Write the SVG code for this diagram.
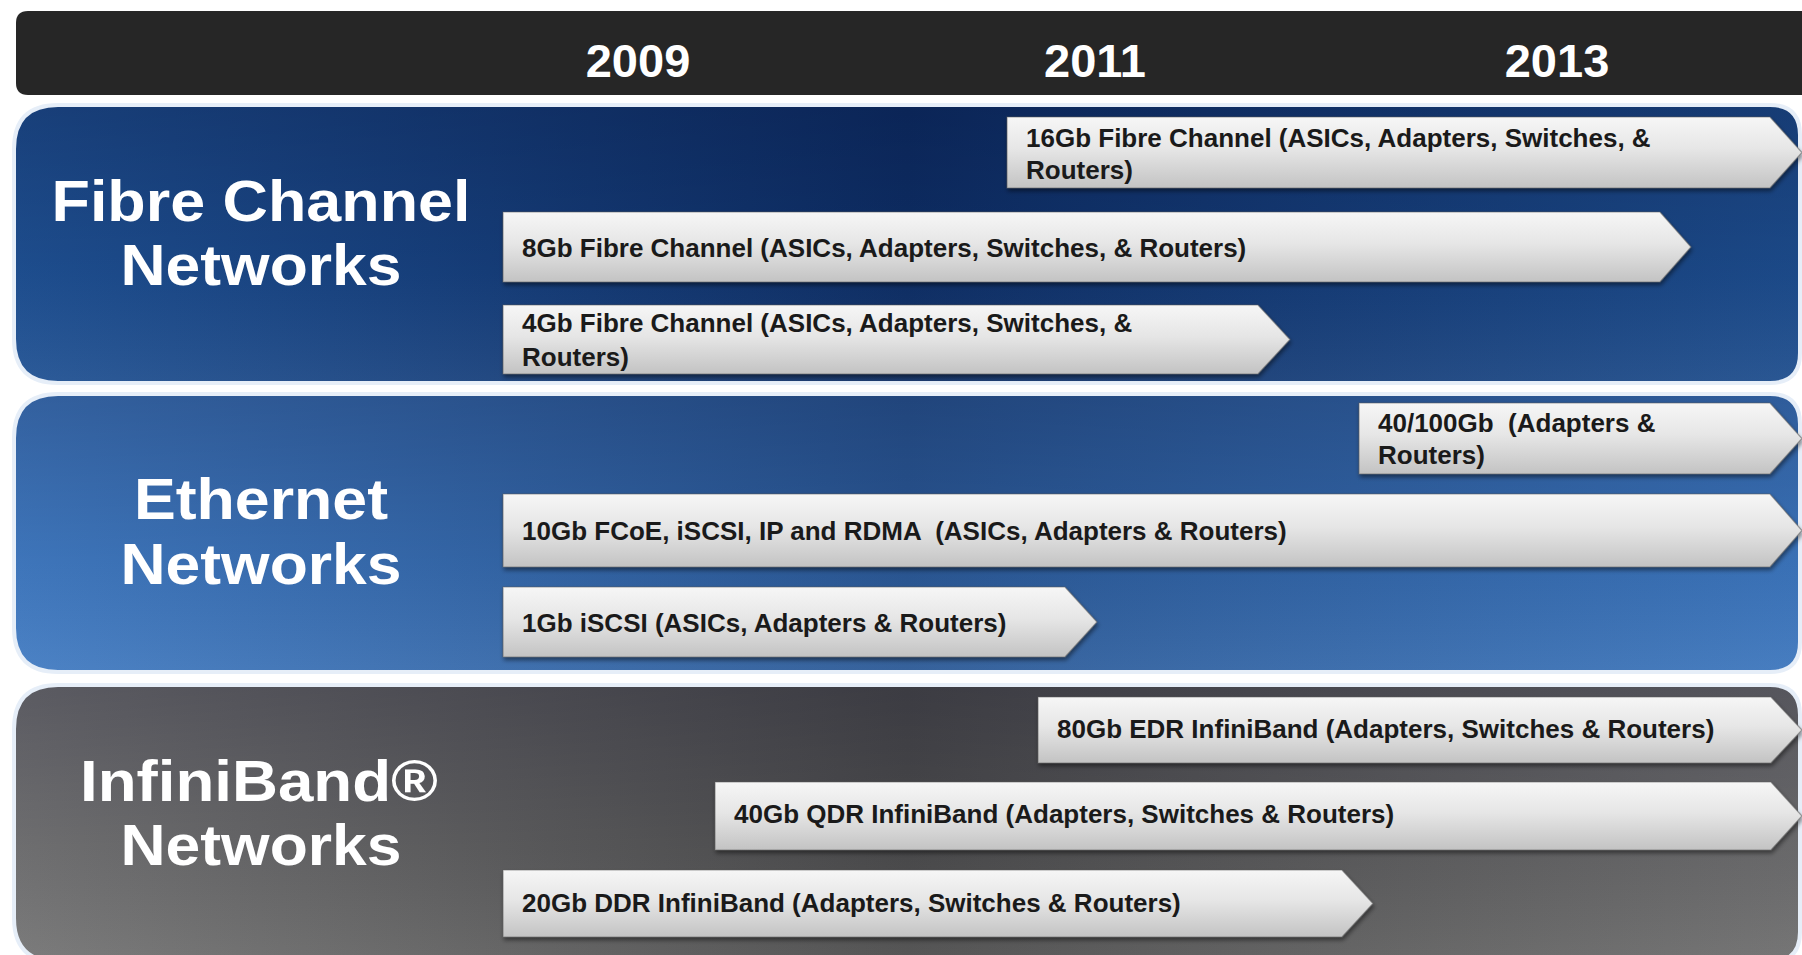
<svg xmlns="http://www.w3.org/2000/svg" width="1802" height="955" viewBox="0 0 1802 955">
<defs>
<linearGradient id="gFC" x1="0" y1="0" x2="1" y2="0">
<stop offset="0" stop-color="#1f5193"/><stop offset="0.5" stop-color="#0e2f66"/><stop offset="1" stop-color="#1d4d8d"/>
</linearGradient>
<linearGradient id="gEth" x1="0" y1="0" x2="1" y2="0">
<stop offset="0" stop-color="#417bc2"/><stop offset="0.5" stop-color="#2a5895"/><stop offset="1" stop-color="#3c76bd"/>
</linearGradient>
<linearGradient id="gIB" x1="0" y1="0" x2="1" y2="0">
<stop offset="0" stop-color="#747474"/><stop offset="0.5" stop-color="#4c4c4c"/><stop offset="1" stop-color="#6e6e6e"/>
</linearGradient>
<linearGradient id="gShade" x1="0" y1="0" x2="0" y2="1">
<stop offset="0" stop-color="#000020" stop-opacity="0.22"/><stop offset="0.6" stop-color="#000020" stop-opacity="0.05"/><stop offset="1" stop-color="#ffffff" stop-opacity="0.06"/>
</linearGradient>
<linearGradient id="gArrow" x1="0" y1="0" x2="0" y2="1">
<stop offset="0" stop-color="#f6f6f6"/><stop offset="0.45" stop-color="#e6e6e6"/><stop offset="1" stop-color="#c3c3c3"/>
</linearGradient>
<filter id="shadow" x="-5%" y="-20%" width="110%" height="150%">
<feDropShadow dx="1" dy="3" stdDeviation="2" flood-color="#000" flood-opacity="0.45"/>
</filter>
</defs>
<style>
.year{font-family:"Liberation Sans",Arial,sans-serif;font-weight:bold;font-size:47px;fill:#ffffff;text-anchor:middle}
.label{font-family:"Liberation Sans",Arial,sans-serif;font-weight:bold;font-size:58px;fill:#ffffff;text-anchor:middle}
.arrow{fill:url(#gArrow);stroke:#5a5a5a;stroke-opacity:0.55;stroke-width:1.2;filter:url(#shadow)}
.atext{font-family:"Liberation Sans",Arial,sans-serif;font-weight:bold;font-size:26px;fill:#1a1a1a;white-space:pre}
.panelEdge{fill:none;stroke:#e6eef8;stroke-width:4}
</style>
<rect x="0" y="0" width="1802" height="955" fill="#ffffff"/>

<g id="header">
<path d="M28,11 H1802 V95 H28 Q16,95 16,83 V23 Q16,11 28,11 Z" fill="#262626"/>
<text class="year" x="638" y="77">2009</text>
<text class="year" x="1095" y="77">2011</text>
<text class="year" x="1557" y="77">2013</text>
</g>

<g id="panel-fibre-channel">
<path d="M58,105 H1770 Q1800,105 1800,135 V353 Q1800,383 1770,383 H58 Q14,383 14,339 V149 Q14,105 58,105 Z" fill="url(#gFC)"/>
<path d="M58,105 H1770 Q1800,105 1800,135 V353 Q1800,383 1770,383 H58 Q14,383 14,339 V149 Q14,105 58,105 Z" fill="url(#gShade)"/>
<path class="panelEdge" d="M58,105 H1770 Q1800,105 1800,135 V353 Q1800,383 1770,383 H58 Q14,383 14,339 V149 Q14,105 58,105 Z"/>
<text class="label" x="261" y="221" textLength="419" lengthAdjust="spacingAndGlyphs">Fibre Channel</text>
<text class="label" x="261" y="285" textLength="281" lengthAdjust="spacingAndGlyphs">Networks</text>
</g>

<g id="panel-ethernet">
<path d="M58,394 H1770 Q1800,394 1800,424 V642 Q1800,672 1770,672 H58 Q14,672 14,628 V438 Q14,394 58,394 Z" fill="url(#gEth)"/>
<path d="M58,394 H1770 Q1800,394 1800,424 V642 Q1800,672 1770,672 H58 Q14,672 14,628 V438 Q14,394 58,394 Z" fill="url(#gShade)"/>
<path class="panelEdge" d="M58,394 H1770 Q1800,394 1800,424 V642 Q1800,672 1770,672 H58 Q14,672 14,628 V438 Q14,394 58,394 Z"/>
<text class="label" x="261" y="519" textLength="254" lengthAdjust="spacingAndGlyphs">Ethernet</text>
<text class="label" x="261" y="584" textLength="281" lengthAdjust="spacingAndGlyphs">Networks</text>
</g>

<g id="panel-infiniband">
<path d="M58,685 H1770 Q1800,685 1800,715 V932 Q1800,962 1770,962 H58 Q14,962 14,918 V729 Q14,685 58,685 Z" fill="url(#gIB)"/>
<path d="M58,685 H1770 Q1800,685 1800,715 V932 Q1800,962 1770,962 H58 Q14,962 14,918 V729 Q14,685 58,685 Z" fill="url(#gShade)"/>
<path class="panelEdge" d="M58,685 H1770 Q1800,685 1800,715 V932 Q1800,962 1770,962 H58 Q14,962 14,918 V729 Q14,685 58,685 Z"/>
<text class="label" x="259" y="801" textLength="358" lengthAdjust="spacingAndGlyphs">InfiniBand®</text>
<text class="label" x="261" y="865" textLength="281" lengthAdjust="spacingAndGlyphs">Networks</text>
</g>

<g id="fc-16gb">
<path class="arrow" d="M1007,117 H1770 L1802,152.5 L1770,188 H1007 Z"/>
<text class="atext" x="1026" y="147">16Gb Fibre Channel (ASICs, Adapters, Switches, &amp;</text>
<text class="atext" x="1026" y="179">Routers)</text>
</g>
<g id="fc-8gb">
<path class="arrow" d="M503,212 H1660 L1691,247 L1660,282 H503 Z"/>
<text class="atext" x="522" y="257">8Gb Fibre Channel (ASICs, Adapters, Switches, &amp; Routers)</text>
</g>
<g id="fc-4gb">
<path class="arrow" d="M503,305 H1258 L1290,339.5 L1258,374 H503 Z"/>
<text class="atext" x="522" y="332">4Gb Fibre Channel (ASICs, Adapters, Switches, &amp;</text>
<text class="atext" x="522" y="366">Routers)</text>
</g>

<g id="eth-40-100gb">
<path class="arrow" d="M1359,403 H1770 L1802,438.5 L1770,474 H1359 Z"/>
<text class="atext" x="1378" y="432">40/100Gb  (Adapters &amp;</text>
<text class="atext" x="1378" y="464">Routers)</text>
</g>
<g id="eth-10gb">
<path class="arrow" d="M503,494 H1770 L1802,530.5 L1770,567 H503 Z"/>
<text class="atext" x="522" y="540">10Gb FCoE, iSCSI, IP and RDMA  (ASICs, Adapters &amp; Routers)</text>
</g>
<g id="eth-1gb">
<path class="arrow" d="M503,587 H1065 L1097,622 L1065,657 H503 Z"/>
<text class="atext" x="522" y="632">1Gb iSCSI (ASICs, Adapters &amp; Routers)</text>
</g>

<g id="ib-80gb">
<path class="arrow" d="M1038,697 H1771 L1802,730 L1771,763 H1038 Z"/>
<text class="atext" x="1057" y="738">80Gb EDR InfiniBand (Adapters, Switches &amp; Routers)</text>
</g>
<g id="ib-40gb">
<path class="arrow" d="M715,782 H1771 L1802,816 L1771,850 H715 Z"/>
<text class="atext" x="734" y="823">40Gb QDR InfiniBand (Adapters, Switches &amp; Routers)</text>
</g>
<g id="ib-20gb">
<path class="arrow" d="M503,870 H1342 L1373,903.5 L1342,937 H503 Z"/>
<text class="atext" x="522" y="912">20Gb DDR InfiniBand (Adapters, Switches &amp; Routers)</text>
</g>

<g id="connectors"></g>
</svg>
